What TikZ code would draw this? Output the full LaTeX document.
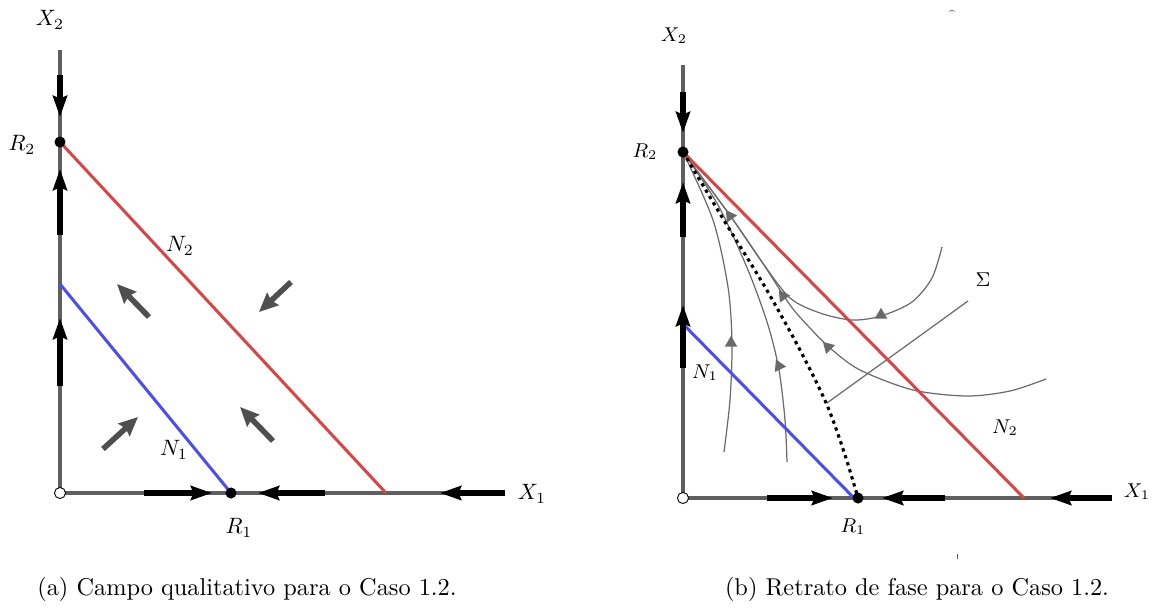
\documentclass[tikz,border=0pt]{standalone}
\usetikzlibrary{arrows.meta, shapes.geometric, positioning}
\definecolor{cAxis}{HTML}{5F5F5F}
\definecolor{cNulOne}{HTML}{4C4CF5}
\definecolor{cNulTwo}{HTML}{DC4444}
\definecolor{cField}{HTML}{4F4F4F}
\definecolor{cOrbit}{HTML}{6A6A6A}
\tikzset{
  axisline/.style={draw=cAxis, line width=1.4pt},
  nulone/.style={draw=cNulOne, line width=1.35pt},
  nultwo/.style={draw=cNulTwo, line width=1.35pt},
  flowarrow/.style={-{Stealth[length=9.5pt, width=6.3pt, inset=1.2pt]}, line width=2.4pt, black},
  fieldarrow/.style={-{Stealth[length=8.5pt, width=7.5pt, inset=1pt]}, line width=2.5pt, color=cField},
  orbit/.style={draw=cOrbit, line width=0.55pt},
  orbitmark/.style={regular polygon, regular polygon sides=3, fill=cOrbit,
    inner sep=0pt, minimum size=6.5pt},
  equil/.style={circle, fill=black, inner sep=0pt, minimum size=5pt},
  openpt/.style={circle, fill=white, draw=black, line width=0.4pt, inner sep=0pt, minimum size=5pt},
  lbl/.style={font=\normalsize},
  lblsmall/.style={font=\small},
  capt/.style={font=\fontsize{10.95}{13}\selectfont, anchor=base},
  separatrix/.style={black, line width=1.4pt, dash pattern=on 1.5pt off 1.8pt}
}

\begin{document}
\begin{tikzpicture}[x=0.45pt, y=-0.45pt]
  \useasboundingbox (0,0) rectangle (1154,613);

  % (a) campo qualitativo
  \coordinate (aO)  at (60,493);
  \coordinate (aXe) at (505,493);
  \coordinate (aYe) at (60,50);
  \coordinate (aR1) at (231,493);
  \coordinate (aR2) at (60,142);
  \coordinate (aN1) at (60,284);
  \coordinate (aN2) at (386,493);

  \draw[axisline] (aO) -- (aXe);
  \draw[axisline] (aO) -- (aYe);
  \draw[nultwo] (aR2) -- (aN2);
  \draw[nulone] (aN1) -- (aR1);

  \draw[flowarrow] (60,75)   -- (60,117);
  \draw[flowarrow] (60,235)  -- (60,169);
  \draw[flowarrow] (60,386)  -- (60,318);
  \draw[flowarrow] (144,493) -- (212,493);
  \draw[flowarrow] (325,493) -- (258,493);
  \draw[flowarrow] (505,493) -- (440,493);

  \draw[fieldarrow] (149,317) -- (117,284);
  \draw[fieldarrow] (291,282) -- (259,312);
  \draw[fieldarrow] (103,449) -- (138,417);
  \draw[fieldarrow] (273,441) -- (240,407);

  \node[openpt] (aOpt) at (aO) {};
  \node[equil] (aR1pt) at (aR1) {};
  \node[equil] (aR2pt) at (aR2) {};

  \node[lbl] (aX2lbl) at (50,20)   {$X_2$};
  \node[lbl] (aX1lbl) at (532,494) {$X_1$};
  \node[lbl] (aR2lbl) at (22,145)  {$R_2$};
  \node[lbl] (aR1lbl) at (239,528) {$R_1$};
  \node[lbl] (aN2lbl) at (180,246) {$N_2$};
  \node[lbl] (aN1lbl) at (174,450) {$N_1$};

  \node[capt] (captA) at (247,595) {(a) Campo qualitativo para o Caso 1.2.};

  % (b) retrato de fase
  \coordinate (bO)  at (683,498);
  \coordinate (bXe) at (1112,498);
  \coordinate (bYe) at (683,65);
  \coordinate (bR1) at (858,498);
  \coordinate (bR2) at (683,152);
  \coordinate (bN1) at (683,324);
  \coordinate (bN1e) at (854,498);
  \coordinate (bN2) at (1024,498);

  \draw[axisline] (bO) -- (bXe);
  \draw[axisline] (bO) -- (bYe);

  \draw[orbit] plot[smooth] coordinates {(724,452) (730,400) (732,343) (728,287) (713,220) (bR2)};
  \draw[orbit] plot[smooth] coordinates {(bR2) (718,205) (748,270) (768,325) (779,370) (785,420) (787,462)};
  \draw[orbit] plot[smooth] coordinates {(bR2) (729,214) (762,262) (790,298) (820,313) (852,320)
    (881,316) (912,302) (932,278) (942,247)};
  \draw[orbit] plot[smooth] coordinates {(bR2) (729,214) (762,262) (790,305) (810,328) (830,348)
    (860,370) (913,390) (967,396) (1010,391) (1046,379)};

  \coordinate (bSig) at (827,403);
  \coordinate (bSigE) at (968,301);
  \draw[orbit] (bSig) -- (bSigE);

  \draw[nultwo] (bR2) -- (bN2);
  \draw[nulone] (bN1) -- (bN1e);
  \draw[separatrix] plot[smooth] coordinates {(bR2) (725,222) (765,287) (800,350) (827,405) (845,455) (bR1)};

  \node[orbitmark] (m1) at (731,343) {};
  \node[orbitmark, rotate=-95] (m2) at (779,366) {};
  \node[orbitmark, rotate=35] (m3) at (730,216) {};
  \node[orbitmark, rotate=35] (m4) at (783,296) {};
  \node[orbitmark] (m5) at (881,315) {};
  \node[orbitmark, rotate=45] (m6) at (828,347) {};

  \draw[flowarrow] (683,92)   -- (683,133);
  \draw[flowarrow] (683,237)  -- (683,182);
  \draw[flowarrow] (683,368)  -- (683,305);
  \draw[flowarrow] (767,498)  -- (833,498);
  \draw[flowarrow] (945,498)  -- (882,498);
  \draw[flowarrow] (1112,498) -- (1050,498);

  \node[openpt] (bOpt) at (bO) {};
  \node[equil] (bR1pt) at (bR1) {};
  \node[equil] (bR2pt) at (bR2) {};

  \node[lblsmall] (bX2lbl) at (674,36)   {$X_2$};
  \node[lblsmall] (bX1lbl) at (1137,492) {$X_1$};
  \node[lblsmall] (bR2lbl) at (645,152)  {$R_2$};
  \node[lblsmall] (bR1lbl) at (853,527)  {$R_1$};
  \node[lblsmall] (bN1lbl) at (705,373)  {$N_1$};
  \node[lblsmall] (bN2lbl) at (1005,428) {$N_2$};
  \node[lblsmall] (bSiglbl) at (983,280) {$\Sigma$};

  \node[font=\tiny] (caret) at (952,14) {\^{}};
  \draw[cAxis, line width=0.4pt] (957,554) -- (957,559);

  \node[capt] (captB) at (917,595) {(b) Retrato de fase para o Caso 1.2.};

\end{tikzpicture}
\end{document}
